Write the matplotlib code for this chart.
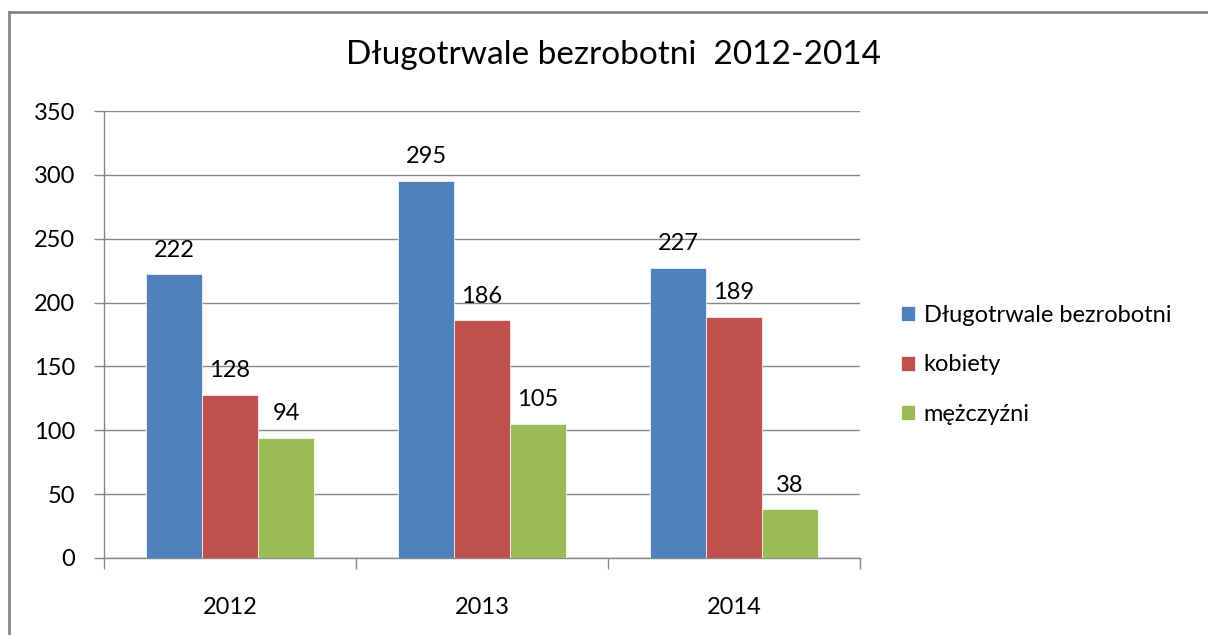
import matplotlib
matplotlib.use("Agg")
import matplotlib.pyplot as plt
from matplotlib.lines import Line2D
import numpy as np

years = ["2012", "2013", "2014"]
series_names = ["Długotrwale bezrobotni", "kobiety", "mężczyźni"]
dlugotrwale = [222, 295, 227]
kobiety = [128, 186, 189]
mezczyzni = [94, 105, 38]
colors = ["#4F81BD", "#C0504D", "#9BBB59"]
title = "Długotrwale bezrobotni  2012-2014"

plt.rcParams['font.family'] = ['Lato', 'DejaVu Sans']

fig = plt.figure(figsize=(12.08, 6.35), dpi=100)
ax = fig.add_axes([104/1208, 1-558/635, (860-104)/1208, (558-111)/635])

fs = 17
x = np.arange(len(years))
w = 0.222
for i, (vals, c, name) in enumerate(zip([dlugotrwale, kobiety, mezczyzni], colors, series_names)):
    pos = x + (i - 1) * w
    ax.bar(pos, vals, width=w, color=c, edgecolor='white', linewidth=0.5, label=name, zorder=3)
    for p, v in zip(pos, vals):
        ax.annotate(str(v), (p, v), xytext=(0, 10), textcoords='offset points',
                    ha='center', va='bottom', fontsize=fs, color='black')

ax.set_xlim(-0.5, 2.5)
ax.set_ylim(0, 350)
ax.set_yticks(range(0, 351, 50))
ax.yaxis.grid(True, color='#868686', linewidth=1, zorder=0)
ax.set_xticks(x)
ax.set_xticklabels(years)
ax.set_xticks([-0.5, 0.5, 1.5, 2.5], minor=True)
ax.tick_params(axis='x', which='major', length=0, pad=28, labelsize=fs)
ax.tick_params(axis='x', which='minor', length=8, width=1, color='#868686', direction='out')
ax.tick_params(axis='y', length=7, width=1, color='#868686', direction='out', pad=14, labelsize=fs)
for s in ['top', 'right']:
    ax.spines[s].set_visible(False)
for s in ['left', 'bottom']:
    ax.spines[s].set_color('#868686')
    ax.spines[s].set_linewidth(1)

fig.text(614/1208, 1-55/635, title, ha='center', va='center', fontsize=24)

leg = ax.legend(loc='center left', bbox_to_anchor=(880/1208, 1-365/635), bbox_transform=fig.transFigure,
                frameon=False, fontsize=fs, handlelength=0.6, handleheight=0.6,
                handletextpad=0.35, labelspacing=1.2)

# outer border (left and top visible)
fig.add_artist(Line2D([9/1208, 9/1208], [0, 1-12/635], transform=fig.transFigure, color='#868686', linewidth=2))
fig.add_artist(Line2D([9/1208, 1], [1-12/635, 1-12/635], transform=fig.transFigure, color='#868686', linewidth=2))

fig.savefig("out.png", dpi=100)
